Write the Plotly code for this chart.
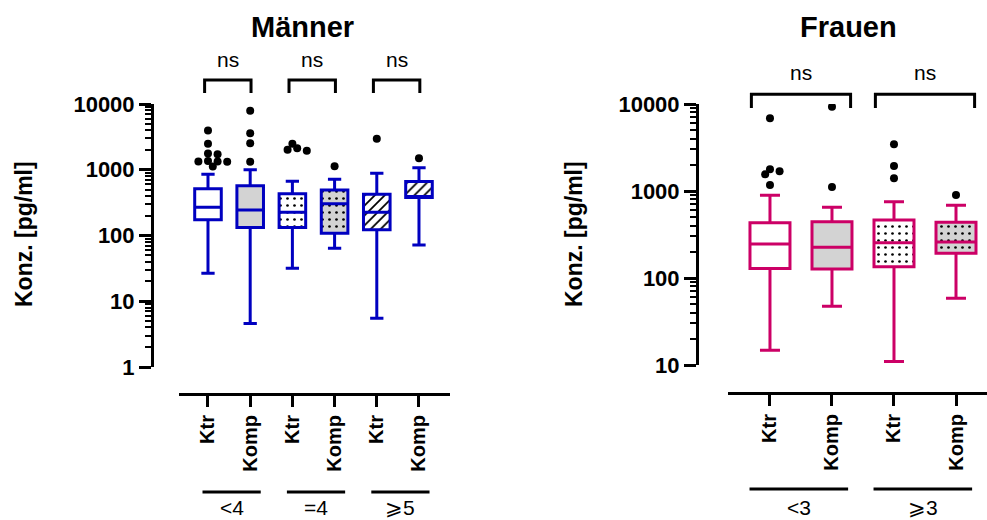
import numpy as np
import plotly.graph_objects as go

# ---------------- data ----------------
cats = ["Ktr", "Komp"]
m_groups = ["<4", "=4", "⩾5"]
f_groups = ["<3", "⩾3"]

m_q1 = [173, 132, 132, 108, 122, 378]
m_med = [270, 245, 226, 303, 226, 392]
m_q3 = [512, 569, 430, 494, 425, 661]
m_lo = [26.7, 4.6, 31.8, 64, 5.5, 72]
m_hi = [857, 996, 671, 720, 888, 1069]
m_out = [
    [3950, 2480, 1760, 1720, 1360, 1340, 1330, 1320, 1120],
    [7870, 3600, 2540, 1320],
    [2480, 2130, 2010, 1940],
    [1135],
    [2950],
    [1500],
]

f_q1 = [129, 127, 135, 192]
f_med = [246, 225, 255, 259]
f_q3 = [432, 444, 464, 437]
f_lo = [14.8, 47.3, 11, 58.5]
f_hi = [893, 650, 753, 685]
f_out = [
    [6850, 1775, 1683, 1555, 1172],
    [9310, 1112],
    [3440, 1937, 1400],
    [899],
]

y_ticks = [1, 10, 100, 1000, 10000]

# ---------------- styles ----------------
BLUE = "#0000C0"
PINK = "#CC0066"
GREY = "#D3D3D3"
m_fill = ["white", GREY, "white", GREY, "white", "white"]
m_pat = ["", "", ".", ".", "/", "/"]
f_fill = ["white", GREY, "white", GREY]
f_pat = ["", "", ".", "."]

W, H = 987, 520
FONT = "Liberation Sans, Arial, sans-serif"


def swarm_offsets(vals, px_per_decade, px_per_unit, d=6.0):
    placed = []
    offs = []
    for v in vals:
        yp = np.log10(v) * px_per_decade
        k = 0
        while True:
            step = ((k + 1) // 2) * (0.8 * d) * (1 if k % 2 == 1 else -1)
            if all(np.hypot(step - px, yp - py) >= d for px, py in placed):
                placed.append((step, yp))
                offs.append(step / px_per_unit)
                break
            k += 1
    return offs


fig = go.Figure()


def add_panel(q1, med, q3, lo, hi, outs, fills, pats, color, xa, ya, ppd, ppu, bw):
    n = len(q1)
    for i in range(n):
        fig.add_trace(go.Bar(
            x=[i], y=[q3[i] - q1[i]], base=[q1[i]], width=bw,
            marker=dict(color=fills[i], line=dict(width=0),
                        pattern=dict(shape=pats[i], fgcolor="black", bgcolor=fills[i],
                                     size=7, solidity=0.12 if pats[i] == "." else 0.25,
                                     fillmode="replace")),
            xaxis=xa, yaxis=ya, showlegend=False, hoverinfo="skip"))
    for i in range(n):
        fig.add_trace(go.Box(
            x=[i], q1=[q1[i]], median=[med[i]], q3=[q3[i]],
            lowerfence=[lo[i]], upperfence=[hi[i]],
            width=bw, whiskerwidth=0.5, boxpoints=False,
            line=dict(color=color, width=3), fillcolor="rgba(0,0,0,0)",
            xaxis=xa, yaxis=ya, showlegend=False))
    for i in range(n):
        offs = swarm_offsets(outs[i], ppd, ppu)
        fig.add_trace(go.Scatter(
            x=[i + o for o in offs], y=outs[i], mode="markers",
            marker=dict(color="black", size=8),
            xaxis=xa, yaxis=ya, showlegend=False))


add_panel(m_q1, m_med, m_q3, m_lo, m_hi, m_out, m_fill, m_pat, BLUE, "x", "y", 65.7, 42.2, 0.63)
add_panel(f_q1, f_med, f_q3, f_lo, f_hi, f_out, f_fill, f_pat, PINK, "x2", "y2", 87.0, 62.0, 0.645)

xtickfont = dict(family=FONT, size=20, color="black", weight="bold")
ytickfont = dict(family=FONT, size=22, color="black", weight="bold")

def xaxis_cfg(domain, rng, pos, ntick):
    return dict(domain=domain, range=rng, anchor="free", position=pos,
                tickmode="array", tickvals=list(range(ntick)),
                ticktext=cats * (ntick // 2), tickangle=-90,
                ticks="outside", ticklen=11, tickwidth=3, tickcolor="black",
                showline=True, linewidth=3, linecolor="black", automargin=False,
                showgrid=False, zeroline=False, tickfont=xtickfont)

def yaxis_cfg(domain, rng, pos):
    return dict(domain=domain, type="log", range=rng, anchor="free", position=pos,
                tickmode="array", tickvals=y_ticks, ticktext=[str(v) for v in y_ticks],
                ticks="outside", ticklen=12, tickwidth=3, tickcolor="black",
                minor=dict(ticks="outside", ticklen=6, tickwidth=2, tickcolor="black",
                           dtick="D1", showgrid=False),
                showline=True, linewidth=3, linecolor="black", automargin=False,
                showgrid=False, zeroline=False, tickfont=ytickfont)

fig.update_layout(
    width=W, height=H,
    margin=dict(l=0, r=0, t=0, b=0, autoexpand=False),
    paper_bgcolor="white", plot_bgcolor="white",
    barmode="overlay", boxmode="overlay",
    showlegend=False,
    font=dict(family=FONT, color="black"),
    xaxis=xaxis_cfg([179 / W, 450 / W], [-0.687, 5.735], 1 - 394 / H, 6),
    yaxis=yaxis_cfg([1 - 367 / H, 1 - 104 / H], [0, 4], 152 / W),
    xaxis2=xaxis_cfg([728 / W, 1.0], [-0.677, 3.5], 1 - 393 / H, 4),
    yaxis2=yaxis_cfg([1 - 365 / H, 1 - 104 / H], [1, 4], 697 / W),
)

ann = []
shapes = []

def txt(text, x, y, xref="paper", size=21, bold=False, angle=0):
    ann.append(dict(text=text, x=x, y=y, xref=xref, yref="paper",
                    xanchor="center", yanchor="middle", textangle=angle,
                    showarrow=False,
                    font=dict(size=size, weight="bold" if bold else "normal",
                              family=FONT, color="black")))

# titles
txt("Männer", 302 / W, 1 - 27 / H, size=29, bold=True)
txt("Frauen", 848 / W, 1 - 27 / H, size=29, bold=True)
# y titles
for xp in (24 / W, 574 / W):
    txt("Konz. [pg/ml]", xp, 1 - 234 / H, size=23, bold=True, angle=-90)

# brackets & ns, group lines & labels
def brackets(xref, ngroups, a, b, ytop, ybot, yns, ygl, ylab, ga, gb, labels):
    for g in range(ngroups):
        k = 2 * g
        x0, x1 = k + a, k + 1 + b
        shapes.append(dict(type="path", xref=xref, yref="paper",
                           path=f"M {x0},{1 - ybot / H} L {x0},{1 - ytop / H} L {x1},{1 - ytop / H} L {x1},{1 - ybot / H}",
                           line=dict(color="black", width=3)))
        txt("ns", (x0 + x1) / 2, 1 - yns / H, xref=xref, size=21)
        g0, g1 = k + ga, k + gb
        shapes.append(dict(type="line", xref=xref, yref="paper", x0=g0, x1=g1,
                           y0=1 - ygl / H, y1=1 - ygl / H, line=dict(color="black", width=3)))
        txt(labels[g], (g0 + g1) / 2, 1 - ylab / H, xref=xref, size=21)

brackets("x", 3, -0.08, 0.02, 80, 93, 59, 492, 507, -0.13, 1.25, m_groups)
brackets("x2", 2, -0.3, 0.3, 94.3, 108, 73, 489, 507, -0.33, 1.26, f_groups)

fig.update_layout(annotations=ann, shapes=shapes)
fig.write_html("out.html", config={"displayModeBar": False},
               post_script="document.body.style.margin='0';document.body.style.overflow='hidden';")
